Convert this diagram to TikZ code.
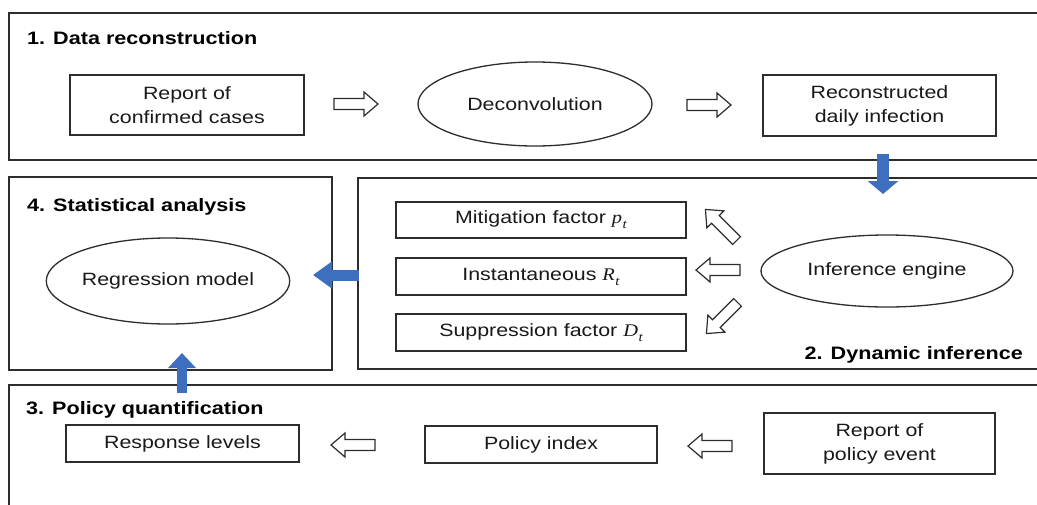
\documentclass[tikz,border=0pt]{standalone}
\usepackage{fontspec}
\setmainfont{Liberation Sans}[FakeStretch=1.2]
\newfontfamily\serifit{Liberation Serif}[FakeStretch=1.15]
\usetikzlibrary{arrows.meta,shapes.geometric}
\definecolor{edge}{RGB}{45,45,45}
\definecolor{ink}{RGB}{25,25,25}
\definecolor{flow}{RGB}{62,110,190}
% italic symbol with a subscript
\newcommand\varsym[2]{{\serifit\itshape #1}\kern0.5pt\raisebox{-0.28em}{\fontsize{13}{13}\selectfont\serifit\itshape #2}}
\tikzset{
  frame/.style={draw=edge,line width=1.6pt,fill=none},
  box/.style={draw=edge,line width=1.3pt,fill=white,inner sep=0pt,align=center,
    text=ink,font=\fontsize{17.8}{24}\selectfont},
  oval/.style={box,ellipse},
  title/.style={inner sep=0pt,text=black,font=\fontsize{18}{22}\selectfont\bfseries},
  hollow/.style={draw=edge,line width=1.2pt,fill=white,line join=miter},
  flowarrow/.style={draw=flow,line cap=butt},
  harrow/.pic={\draw[hollow] (-22,-5.5) -- (8,-5.5) -- (8,-12) -- (22,0) -- (8,12) -- (8,5.5) -- (-22,5.5) -- cycle;}
}
\begin{document}
\begin{tikzpicture}[x=1pt,y=-1pt]
\useasboundingbox (0,0) rectangle (1037,504);
\fill[white] (0,0) rectangle (1037,504);
\clip (0,0) rectangle (1037,504);

% section frames
\draw[frame] (9,13) rectangle (1045,160);
\draw[frame] (9,177) rectangle (332,370);
\draw[frame] (358,178) rectangle (1045,369);
\draw[frame] (9,385) rectangle (1045,520);

% section titles
\node[title,anchor=base west] (t1) at (27,44.5) {1. Data reconstruction};
\node[title,anchor=base west] (t4) at (27,211.5) {4. Statistical analysis};
\node[title,anchor=base east] (t2) at (1023,359.5) {2. Dynamic inference};
\node[title,anchor=base west] (t3) at (26,414.5) {3. Policy quantification};

% 1. data reconstruction
\node[box,minimum width=234,minimum height=60] (rep) at (187,105) {Report of\\confirmed cases};
\node[oval,minimum width=234,minimum height=84] (dec) at (535,104) {Deconvolution};
\node[box,minimum width=233,minimum height=61] (rec) at (879.5,105.5) {Reconstructed\\daily infection};
\pic (a1) at (356,104) {harrow};
\pic (a2) at (709,105) {harrow};

% 2. dynamic inference
\node[box,minimum width=290,minimum height=36] (mit) at (541,220) {Mitigation factor \varsym{p}{t}};
\node[box,minimum width=290,minimum height=37] (ins) at (541,276.5) {Instantaneous \varsym{R}{t}};
\node[box,minimum width=290,minimum height=37] (sup) at (541,332.5) {Suppression factor \varsym{D}{t}};
\node[oval,minimum width=252,minimum height=72] (eng) at (887,271) {Inference engine};
\pic[rotate=135] (a3) at (721,225) {harrow};
\pic[rotate=180] (a4) at (718,270) {harrow};
\pic[rotate=225] (a5) at (722,318) {harrow};

% 4. statistical analysis
\node[oval,minimum width=234,minimum height=86] (reg) at (168,281) {Regression model};

% 3. policy quantification
\node[box,minimum width=233,minimum height=37] (res) at (182.5,443.5) {Response levels};
\node[box,minimum width=232,minimum height=37] (pol) at (541,444.5) {Policy index};
\node[box,minimum width=231,minimum height=61] (pev) at (879.5,443.5) {Report of\\policy event};
\pic[rotate=180] (a6) at (353,445) {harrow};
\pic[rotate=180] (a7) at (710,446) {harrow};

% flows between sections
\coordinate (d0) at (883,154);
\coordinate (d1) at (883,194);
\coordinate (l0) at (359,275);
\coordinate (l1) at (313,275);
\coordinate (u0) at (182,393);
\coordinate (u1) at (182,353);
\draw[flowarrow,line width=12pt,-{Triangle[width=30pt,length=13pt]}] (d0) -- (d1);
\draw[flowarrow,line width=11pt,-{Triangle[width=26pt,length=19pt]}] (l0) -- (l1);
\draw[flowarrow,line width=10pt,-{Triangle[width=27pt,length=15pt]}] (u0) -- (u1);
\end{tikzpicture}
\end{document}
